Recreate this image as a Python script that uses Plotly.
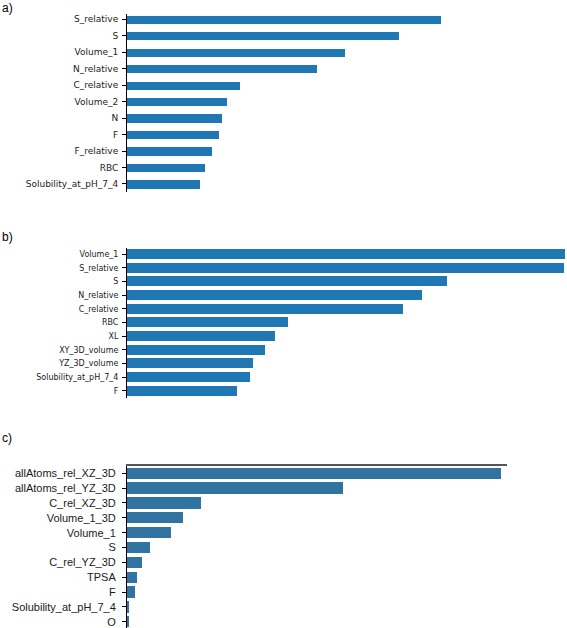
import plotly.graph_objects as go

# Panel a
cats_a = ["S_relative", "S", "Volume_1", "N_relative", "C_relative", "Volume_2",
          "N", "F", "F_relative", "RBC", "Solubility_at_pH_7_4"]
vals_a = [0.157, 0.136, 0.109, 0.095, 0.0565, 0.050, 0.0475, 0.046, 0.0425, 0.039, 0.0365]

# Panel b
cats_b = ["Volume_1", "S_relative", "S", "N_relative", "C_relative", "RBC", "XL",
          "XY_3D_volume", "YZ_3D_volume", "Solubility_at_pH_7_4", "F"]
vals_b = [0.1096, 0.1093, 0.0800, 0.0737, 0.0691, 0.0403, 0.0370, 0.0344, 0.0316, 0.0308, 0.0274]

# Panel c
cats_c = ["allAtoms_rel_XZ_3D", "allAtoms_rel_YZ_3D", "C_rel_XZ_3D", "Volume_1_3D",
          "Volume_1", "S", "C_rel_YZ_3D", "TPSA", "F", "Solubility_at_pH_7_4", "O"]
vals_c = [0.3737, 0.2163, 0.074, 0.056, 0.044, 0.0233, 0.0153, 0.0103, 0.008, 0.0017, 0.0017]

panel_labels = ["a)", "b)", "c)"]

W, H = 567, 628

def px_x(p):
    return p / W

def px_y(p):
    return 1 - p / H

fig = go.Figure()

fig.add_trace(go.Bar(x=vals_a, y=cats_a, orientation="h", width=0.5,
                     marker=dict(color="#1f77b4", line=dict(width=0)),
                     xaxis="x", yaxis="y"))
fig.add_trace(go.Bar(x=vals_b, y=cats_b, orientation="h", width=0.73,
                     marker=dict(color="#1f77b4", line=dict(width=0)),
                     xaxis="x2", yaxis="y2"))
fig.add_trace(go.Bar(x=vals_c, y=cats_c, orientation="h", width=0.76,
                     marker=dict(color="#3274a1", line=dict(width=0)),
                     xaxis="x3", yaxis="y3"))

left = px_x(127)

common_x = dict(showgrid=False, zeroline=False, showticklabels=False, ticks="")
common_y = dict(type="category", showgrid=False, zeroline=False, showline=True,
                linecolor="black", linewidth=1, ticks="outside", ticklen=4,
                tickcolor="black", tickwidth=1)

fig.update_layout(
    width=W, height=H,
    margin=dict(l=0, r=0, t=0, b=0),
    paper_bgcolor="white", plot_bgcolor="white",
    showlegend=False,
    bargap=0,
    xaxis=dict(domain=[left, 1], range=[0, 0.22], anchor="y", showline=False, **common_x),
    yaxis=dict(domain=[px_y(192), px_y(13.5)], anchor="x", categoryorder="array",
               categoryarray=cats_a, range=[10.49, -0.35], ticklabelstandoff=2,
               tickfont=dict(family="DejaVu Sans", size=9, color="#222"), **common_y),
    xaxis2=dict(domain=[left, 1], range=[0, 0.11], anchor="y2", showline=False, **common_x),
    yaxis2=dict(domain=[px_y(398), px_y(248)], anchor="x2", categoryorder="array",
                categoryarray=cats_b, range=[10.53, -0.44], ticklabelstandoff=2,
                tickfont=dict(family="DejaVu Sans", size=8, color="#222"), **common_y),
    xaxis3=dict(domain=[left, px_x(507)], range=[0, 0.38], anchor="y3", side="top",
                showline=True, linecolor="#555", linewidth=1.5, **common_x),
    yaxis3=dict(domain=[0, px_y(466)], anchor="x3", categoryorder="array",
                categoryarray=cats_c, range=[10.42, -0.49], ticklabelstandoff=4,
                tickfont=dict(family="Liberation Sans", size=11, color="#1a1a1a"), **common_y),
)

for lab, py in zip(panel_labels, [8, 237, 438]):
    fig.add_annotation(text=lab, x=0, y=px_y(py), xref="paper", yref="paper",
                       xanchor="left", yanchor="middle", showarrow=False,
                       font=dict(family="Liberation Sans", size=12, color="black"))

fig.write_html("out.html", config={"displayModeBar": False},
               post_script="document.body.style.margin='0';")
